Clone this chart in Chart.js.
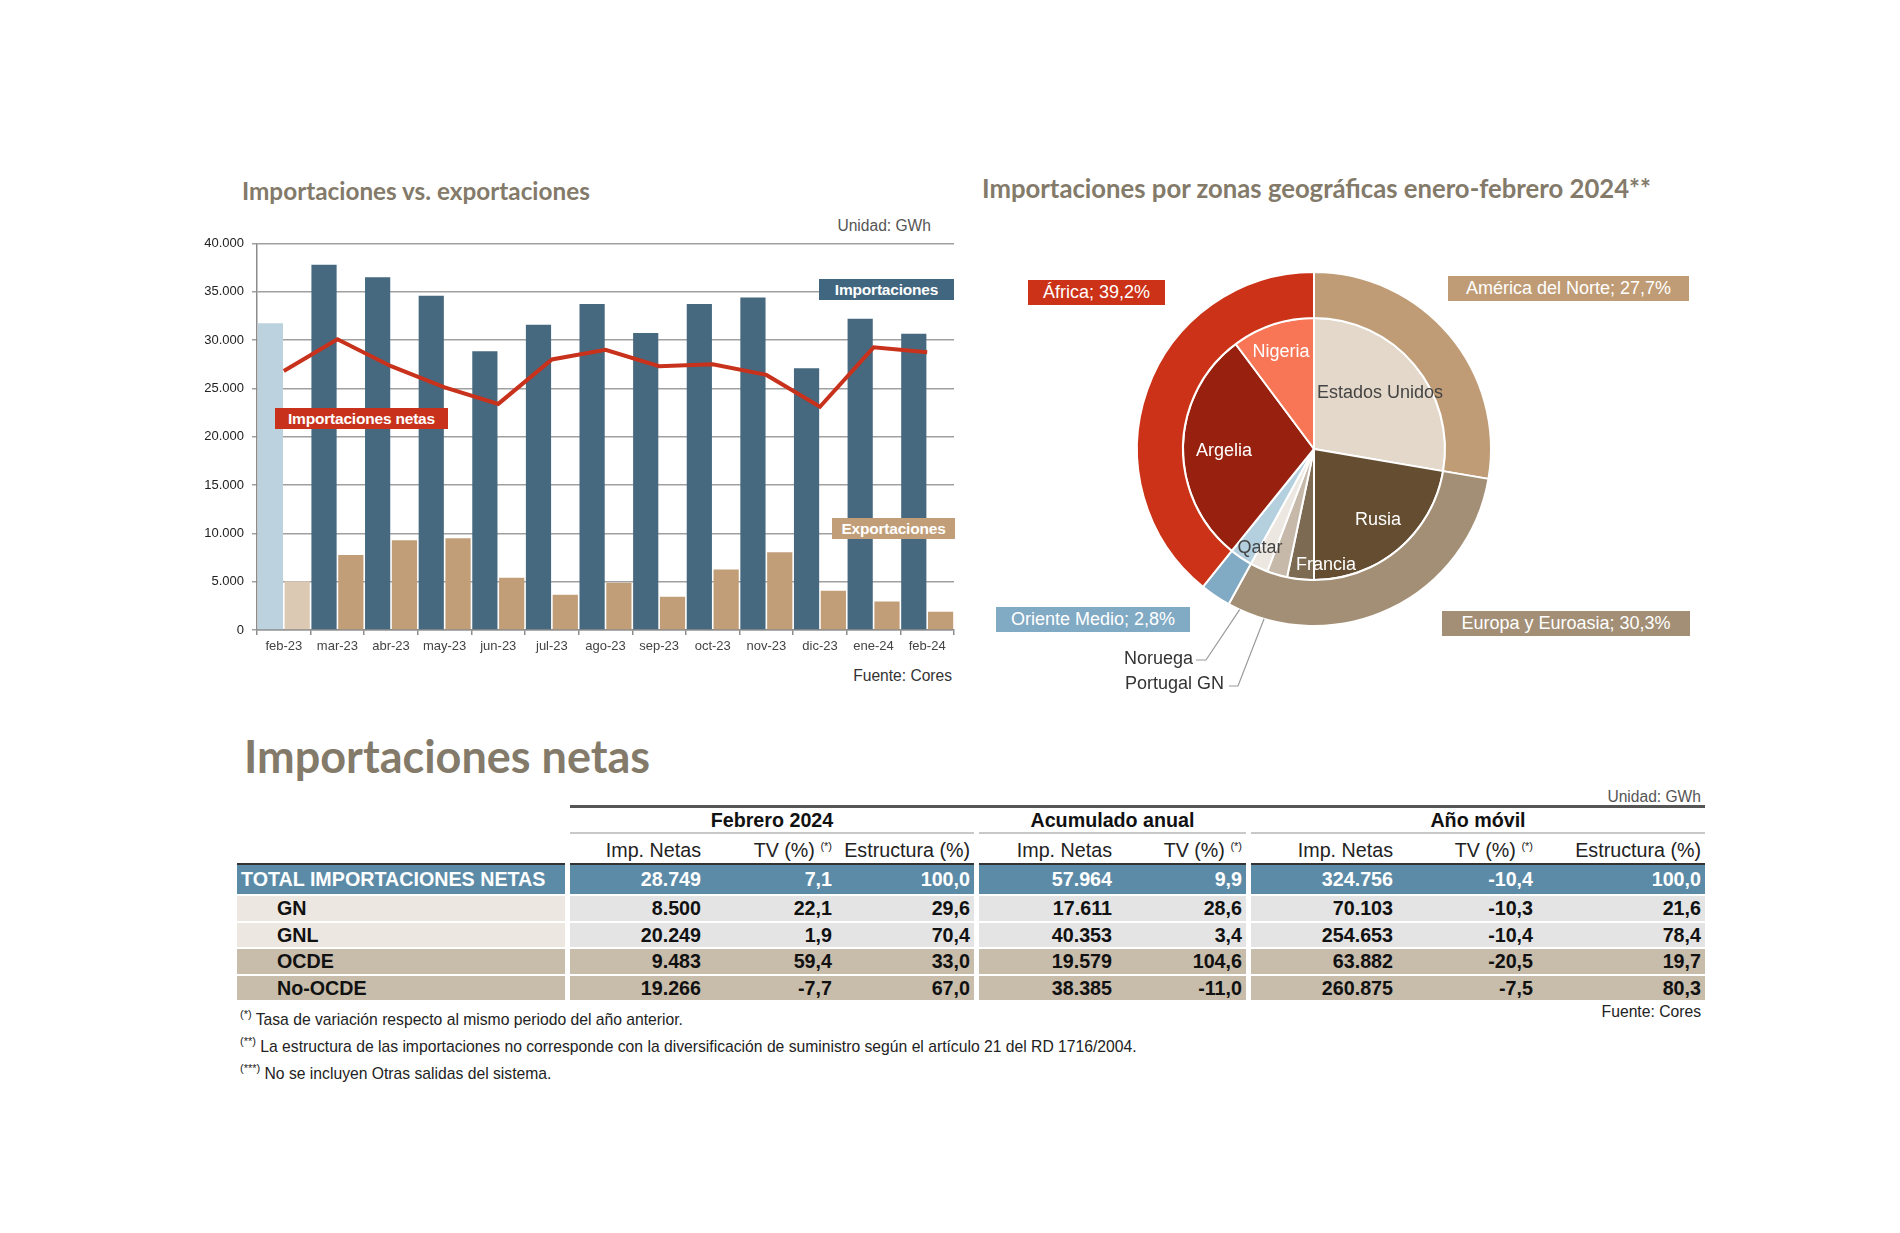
<!DOCTYPE html>
<html>
<head>
<meta charset="utf-8">
<script src="https://cdn.jsdelivr.net/npm/chart.js@4.4.1/dist/chart.umd.min.js"></script>
<style>
  body { margin: 0; width: 1900px; height: 1233px; background: #fff; position: relative; overflow: hidden;
         font-family: "Liberation Sans", Arial, sans-serif; color: #222; }
  .abs { position: absolute; white-space: nowrap; }
  .title { font-family: Lato, "Open Sans", sans-serif; font-weight: 700; color: #837a6a; }
  canvas { position: absolute; }
  sup { font-size: 11px; vertical-align: 7px; line-height: 0; }
</style>
</head>
<body>

<div class="abs title" style="left:242px;top:174px;font-size:24.3px;line-height:34px;">Importaciones vs. exportaciones</div>
<div class="abs title" style="left:982px;top:171px;font-size:25.7px;line-height:34px;">Importaciones por zonas geográficas enero-febrero 2024**</div>
<div class="abs title" style="left:244px;top:727px;font-size:45px;line-height:58px;">Importaciones netas</div>

<div class="abs" style="right:969px;top:216px;font-size:15.6px;line-height:20px;color:#555;">Unidad: GWh</div>
<div class="abs" style="right:948px;top:666px;font-size:15.6px;line-height:20px;color:#333;">Fuente: Cores</div>

<canvas id="bars" width="775" height="447" style="left:200px;top:225px;width:775px;height:447px;"></canvas>
<canvas id="pie" width="680" height="500" style="left:974px;top:199px;width:680px;height:500px;"></canvas>

<div id="overlay"></div>
<div id="tabla"></div>

<script>
// ---- datos: importaciones vs exportaciones (GWh) ----
const months = ['feb-23', 'mar-23', 'abr-23', 'may-23', 'jun-23', 'jul-23', 'ago-23',
                'sep-23', 'oct-23', 'nov-23', 'dic-23', 'ene-24', 'feb-24'];
const importaciones = [31750, 37800, 36500, 34600, 28850, 31600, 33750, 30750, 33750, 34400, 27100, 32200, 30650];
const exportaciones = [5050, 7750, 9300, 9500, 5400, 3650, 4900, 3450, 6250, 8050, 4050, 2950, 1900];
const netas = [26800, 30100, 27300, 25100, 23400, 28000, 29000, 27300, 27500, 26400, 23100, 29250, 28750];
const yTickLabels = ['0', '5.000', '10.000', '15.000', '20.000', '25.000', '30.000', '35.000', '40.000'];

// ---- datos: zonas geograficas (%) ----
const zonas = ['América del Norte', 'Europa y Euroasia', 'Oriente Medio', 'África'];
const zonasPct = [27.7, 30.3, 2.8, 39.2];
const paises = ['Estados Unidos', 'Rusia', 'Francia', 'Portugal GN', 'Noruega', 'Qatar', 'Argelia', 'Nigeria'];
const paisesPct = [27.7, 22.3, 3.3, 2.5, 2.2, 2.8, 29.0, 10.2];

// ---- datos: tabla importaciones netas ----
const filas = ['TOTAL IMPORTACIONES NETAS', 'GN', 'GNL', 'OCDE', 'No-OCDE'];
const febImp = ['28.749', '8.500', '20.249', '9.483', '19.266'];
const febTv = ['7,1', '22,1', '1,9', '59,4', '-7,7'];
const febEst = ['100,0', '29,6', '70,4', '33,0', '67,0'];
const acuImp = ['57.964', '17.611', '40.353', '19.579', '38.385'];
const acuTv = ['9,9', '28,6', '3,4', '104,6', '-11,0'];
const movImp = ['324.756', '70.103', '254.653', '63.882', '260.875'];
const movTv = ['-10,4', '-10,3', '-10,4', '-20,5', '-7,5'];
const movEst = ['100,0', '21,6', '78,4', '19,7', '80,3'];

const notas = [
  ['(*)', 'Tasa de variación respecto al mismo periodo del año anterior.'],
  ['(**)', 'La estructura de las importaciones no corresponde con la diversificación de suministro según el artículo 21 del RD 1716/2004.'],
  ['(***)', 'No se incluyen Otras salidas del sistema.']
];

Chart.defaults.font.family = '"Liberation Sans", Arial, sans-serif';

// ---------- barras ----------
const impColors = months.map((m, i) => i === 0 ? '#bdd2df' : '#46697f');
const expColors = months.map((m, i) => i === 0 ? '#dbc9b4' : '#c19e78');

new Chart(document.getElementById('bars'), {
  type: 'bar',
  data: {
    labels: months,
    datasets: [
      { type: 'line', label: 'Importaciones netas', data: netas, borderColor: '#c8321c', borderWidth: 4,
        pointRadius: 0, fill: false, tension: 0, order: 0 },
      { label: 'Importaciones', data: importaciones, backgroundColor: impColors, order: 1,
        barPercentage: 0.94, categoryPercentage: 1 },
      { label: 'Exportaciones', data: exportaciones, backgroundColor: expColors, order: 1,
        barPercentage: 0.94, categoryPercentage: 1 }
    ]
  },
  options: {
    responsive: false,
    animation: false,
    layout: { padding: { top: 18.5, right: 21, left: 0, bottom: 0 } },
    plugins: { legend: { display: false }, tooltip: { enabled: false } },
    scales: {
      x: {
        grid: { drawOnChartArea: false, drawTicks: true, tickLength: 5, color: '#8c8c8c', lineWidth: 1.5, offset: true },
        border: { color: '#8c8c8c', width: 1.5 },
        ticks: { color: '#444', font: { size: 13 }, padding: 4, maxRotation: 0, autoSkip: false },
        afterFit(s) { s.height = 42; }
      },
      y: {
        min: 0, max: 40000,
        ticks: { stepSize: 5000, callback: (v, i) => yTickLabels[i], color: '#222', font: { size: 13 }, padding: 8 },
        grid: { color: '#a0a0a0', lineWidth: 1.5, tickLength: 5 },
        border: { color: '#8c8c8c', width: 1.5 },
        afterFit(s) { s.width = 57; }
      }
    }
  }
});

// ---------- tarta doble ----------
const zonaColors = ['#bf9c75', '#a38f76', '#81aac4', '#cc3217'];
const paisColors = ['#e3d8c9', '#654d31', '#7d6a53', '#c6b9a9', '#ece7e0', '#b4d0df', '#97200f', '#f87656'];

// lineas guia de Noruega y Portugal GN (codo y final en coords del canvas)
const leaders = [
  { name: 'Noruega', elbow: [232, 461], end: [222, 461] },
  { name: 'Portugal GN', elbow: [264, 487], end: [255, 487] }
];
const leaderPlugin = {
  id: 'leaders',
  afterDatasetsDraw(chart) {
    const ctx = chart.ctx;
    const R = chart.getDatasetMeta(0).data[0].outerRadius;
    const inner = chart.getDatasetMeta(1);
    leaders.forEach(t => {
      const arc = inner.data[paises.indexOf(t.name)];
      const a = (arc.startAngle + arc.endAngle) / 2;
      ctx.save();
      ctx.strokeStyle = '#9a9a9a';
      ctx.lineWidth = 1.2;
      ctx.beginPath();
      ctx.moveTo(arc.x + Math.cos(a) * R, arc.y + Math.sin(a) * R);
      ctx.lineTo(t.elbow[0], t.elbow[1]);
      ctx.lineTo(t.end[0], t.end[1]);
      ctx.stroke();
      ctx.restore();
    });
  }
};

new Chart(document.getElementById('pie'), {
  type: 'doughnut',
  data: {
    labels: paises,
    datasets: [
      { data: zonasPct, backgroundColor: zonaColors, borderColor: '#fff', borderWidth: 2, weight: 46 },
      { data: paisesPct, backgroundColor: paisColors, borderColor: '#fff', borderWidth: 2, weight: 131 }
    ]
  },
  options: {
    responsive: false,
    animation: false,
    cutout: 0,
    radius: 177,
    plugins: { legend: { display: false }, tooltip: { enabled: false } }
  },
  plugins: [leaderPlugin]
});

// ---------- etiquetas sobre los graficos ----------
const overlay = document.getElementById('overlay');
function addDiv(html, css) {
  const d = document.createElement('div');
  d.className = 'abs';
  d.innerHTML = html;
  d.style.cssText = css;
  overlay.appendChild(d);
  return d;
}
const fmtPct = v => v.toFixed(1).replace('.', ',') + '%';

// cajas de serie del grafico de barras
const boxCss = 'height:21px;line-height:21px;color:#fff;font-weight:bold;font-size:15.5px;text-align:center;letter-spacing:-0.2px;';
addDiv('Importaciones', 'left:819px;top:279px;width:135px;background:#41667f;' + boxCss);
addDiv('Importaciones netas', 'left:275px;top:408px;width:173px;background:#c8321c;' + boxCss);
addDiv('Exportaciones', 'left:832px;top:518px;width:123px;background:#c19e78;' + boxCss);

// cajas de zona
const zonaBoxes = [
  [1448, 276, 241],
  [1442, 611, 248],
  [996, 607, 194],
  [1028, 280, 137]
];
zonas.forEach((z, i) => {
  const [l, t, w] = zonaBoxes[i];
  addDiv(z + '; ' + fmtPct(zonasPct[i]),
    `left:${l}px;top:${t}px;width:${w}px;height:25px;line-height:25px;background:${zonaColors[i]};color:#fff;font-size:18px;text-align:center;`);
});

// nombres de paises dentro de la tarta (centro de texto)
const paisLabelPos = {
  'Estados Unidos': [1380, 392, '#444'],
  'Rusia': [1378, 519, '#fff'],
  'Francia': [1326, 564, '#fff'],
  'Qatar': [1260, 547, '#444'],
  'Argelia': [1224, 450, '#fff'],
  'Nigeria': [1281, 351, '#fff']
};
Object.keys(paisLabelPos).forEach(n => {
  const [x, y, c] = paisLabelPos[n];
  addDiv(n, `left:${x - 100}px;top:${y - 11}px;width:200px;height:22px;line-height:22px;text-align:center;font-size:18px;color:${c};`);
});
addDiv('Noruega', 'right:' + (1900 - 1193) + 'px;top:647px;height:22px;line-height:22px;font-size:18px;color:#333;');
addDiv('Portugal GN', 'right:' + (1900 - 1224) + 'px;top:672px;height:22px;line-height:22px;font-size:18px;color:#333;');

// ---------- tabla ----------
const tabla = document.getElementById('tabla');
function cell(html, css) {
  const d = document.createElement('div');
  d.className = 'abs';
  d.innerHTML = html;
  d.style.cssText = css;
  tabla.appendChild(d);
}
const groups = [
  { name: 'Febrero 2024', left: 570, right: 974,
    cols: [ { head: 'Imp. Netas', data: febImp, r: 705 }, { head: 'TV (%) <sup>(*)</sup>', data: febTv, r: 836 },
            { head: 'Estructura (%)', data: febEst, r: 974 } ] },
  { name: 'Acumulado anual', left: 979, right: 1246,
    cols: [ { head: 'Imp. Netas', data: acuImp, r: 1116 }, { head: 'TV (%) <sup>(*)</sup>', data: acuTv, r: 1246 } ] },
  { name: 'Año móvil', left: 1251, right: 1705,
    cols: [ { head: 'Imp. Netas', data: movImp, r: 1397 }, { head: 'TV (%) <sup>(*)</sup>', data: movTv, r: 1537 },
            { head: 'Estructura (%)', data: movEst, r: 1705 } ] }
];
const rowBg = ['#5c8ba7', '#e4e4e4', '#e4e4e4', '#c8bcab', '#c8bcab'];
const firstBg = ['#5c8ba7', '#ece8e1', '#ece8e1', '#c8bcab', '#c8bcab'];
const rowTop = i => i === 0 ? 865 : 896 + (i - 1) * 26.6;
const rowH = i => i === 0 ? 29 : 24.5;
const fs = 19.7;

cell('Unidad: GWh', 'right:199px;top:787px;font-size:15.6px;line-height:20px;color:#555;');
cell('', 'left:570px;top:805px;width:1135px;height:2.5px;background:#555;');
cell('', 'left:237px;top:862.5px;width:328px;height:2.5px;background:#333;');

groups.forEach(g => {
  const w = g.right - g.left;
  cell(g.name, `left:${g.left}px;top:808px;width:${w}px;height:24px;line-height:24px;text-align:center;font-weight:bold;font-size:${fs}px;color:#111;`);
  cell('', `left:${g.left}px;top:832px;width:${w}px;height:2px;background:#c8c8c8;`);
  cell('', `left:${g.left}px;top:862.5px;width:${w}px;height:2.5px;background:#333;`);
  filas.forEach((f, i) => {
    cell('', `left:${g.left}px;top:${rowTop(i)}px;width:${w}px;height:${rowH(i)}px;background:${rowBg[i]};`);
  });
  g.cols.forEach(c => {
    cell(c.head, `right:${1900 - c.r + 4}px;top:838px;height:24px;line-height:24px;font-size:${fs}px;color:#222;`);
    c.data.forEach((v, i) => {
      cell(v, `right:${1900 - c.r + 4}px;top:${rowTop(i)}px;height:${rowH(i)}px;line-height:${rowH(i)}px;font-size:${fs}px;font-weight:bold;color:${i === 0 ? '#fff' : '#111'};`);
    });
  });
});
filas.forEach((f, i) => {
  cell(f, `left:237px;top:${rowTop(i)}px;width:${i === 0 ? 324 : 288}px;height:${rowH(i)}px;line-height:${rowH(i)}px;padding-left:${i === 0 ? 4 : 40}px;background:${firstBg[i]};font-size:${fs}px;font-weight:bold;color:${i === 0 ? '#fff' : '#111'};`);
});
cell('Fuente: Cores', 'right:199px;top:1002px;font-size:15.7px;line-height:20px;color:#222;');
notas.forEach((n, i) => {
  cell(`<sup>${n[0]}</sup> ${n[1]}`, `left:240px;top:${1010 + i * 27}px;font-size:15.7px;line-height:20px;color:#222;`);
});
</script>
</body>
</html>
